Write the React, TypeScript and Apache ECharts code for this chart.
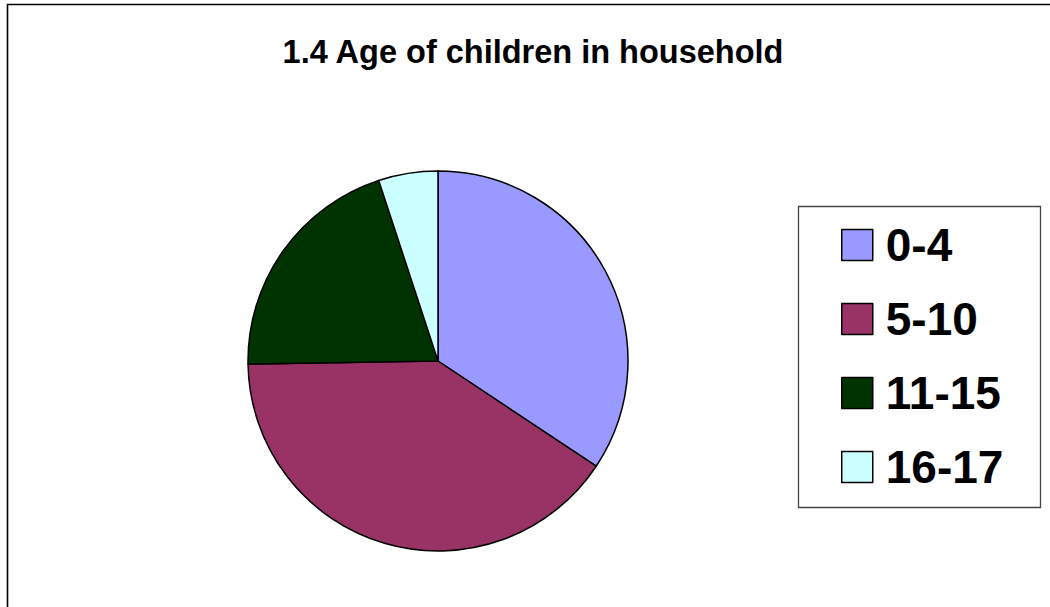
import React, { useEffect, useRef } from "react";
import * as echarts from "echarts";

const categories = ["0-4", "5-10", "11-15", "16-17"];
const values = [68, 80, 40, 10];
const colors = ["#9999FF", "#993366", "#003300", "#CCFFFF"];
const titleText = "1.4 Age of children in household";

const FONT = '"Liberation Sans", Arial, Helvetica, sans-serif';

export default function App() {
  const ref = useRef<HTMLDivElement>(null);
  useEffect(() => {
    if (!ref.current) return;
    const chart = echarts.init(ref.current, undefined, { renderer: "svg" });
    chart.setOption({
      animation: false,
      backgroundColor: "#ffffff",
      color: colors,
      title: {
        text: titleText,
        left: 528,
        textAlign: "center",
        top: 30,
        textStyle: { fontFamily: FONT, fontWeight: "bold", fontSize: 32.5, color: "#000" },
      },
      graphic: [
        {
          type: "rect",
          shape: { x: 7.5, y: 4.5, width: 1200, height: 800 },
          style: { fill: "none", stroke: "#000", lineWidth: 1.6 },
          silent: true,
        },
        {
          type: "rect",
          shape: { x: 798.5, y: 206.5, width: 242, height: 301 },
          style: { fill: "#fff", stroke: "#444", lineWidth: 1.3 },
          silent: true,
          z: -1,
        },
      ],
      legend: {
        orient: "vertical",
        left: 841,
        top: 222,
        padding: 0,
        itemWidth: 31,
        itemHeight: 31,
        itemGap: 28,
        icon: "rect",
        data: categories,
        textStyle: {
          fontFamily: FONT,
          fontWeight: "bold",
          fontSize: 46,
          color: "#000",
          padding: [0, 0, 0, 8],
        },
        itemStyle: { borderColor: "#000", borderWidth: 1.5 },
      },
      series: [
        {
          type: "pie",
          center: [438, 361],
          radius: 190,
          startAngle: 90,
          clockwise: true,
          label: { show: false },
          labelLine: { show: false },
          emphasis: { disabled: true },
          itemStyle: { borderColor: "#000", borderWidth: 1.5 },
          data: categories.map((c, i) => ({ name: c, value: values[i] })),
        },
      ],
    });
    return () => chart.dispose();
  }, []);
  return (
    <div
      ref={ref}
      style={{ position: "fixed", left: 0, top: 0, width: 1050, height: 607 }}
    />
  );
}
